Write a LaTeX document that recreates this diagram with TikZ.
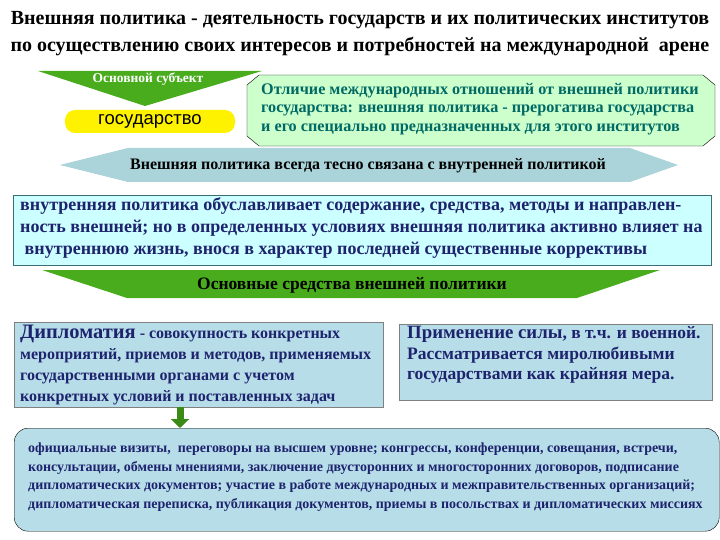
\documentclass[tikz,border=0pt]{standalone}
\usepackage{fontspec}
\setmainfont{Liberation Serif}
\setsansfont{Liberation Sans}
\usetikzlibrary{arrows.meta}
\definecolor{navytext}{RGB}{30,35,110}
\definecolor{tealtext}{RGB}{0,105,100}
\definecolor{bannergreen}{RGB}{72,172,28}
\definecolor{octfill}{RGB}{204,255,204}
\definecolor{cyanfill}{RGB}{204,255,255}
\definecolor{bluefill}{RGB}{183,221,232}
\definecolor{bannercyan}{RGB}{170,212,218}
\definecolor{boxline}{RGB}{60,110,120}
\newcommand\bigword[1]{\fontsize{#1}{21}\selectfont}

\begin{document}
\begin{tikzpicture}[x=1pt,y=-1pt,
    txt/.style={inner sep=0pt,font=\bfseries},
    para/.style={txt,align=left,anchor=north west}]
    \useasboundingbox (0,0) rectangle (720,540);

    \node[txt,align=center,font=\bfseries\fontsize{20}{27}\selectfont] (title) at (360,34)
        {Внешняя политика - деятельность государств и их политических институтов\\
         по осуществлению своих интересов и потребностей на международной\ \ арене};

    \fill[bannergreen] (38,71) -- (262,71) -- (145,106) -- cycle;
    \node[txt,text=white,font=\bfseries\fontsize{13.5}{14}\selectfont] (subject) at (148,79) {Основной субъект};

    \node[fill=yellow,rounded corners=10pt,minimum width=170pt,minimum height=23pt,inner sep=0pt,
        font=\sffamily\fontsize{18.5}{19}\selectfont] (state) at (150,121.5) {государство};

    \draw[black,fill=octfill] (247,85) -- (259,75) -- (703,75) -- (715,85) -- (715,136)
        -- (703,146) -- (259,146) -- (247,136) -- cycle;
    \node[para,text=tealtext,font=\bfseries\fontsize{16.2}{18.5}\selectfont] (diff) at (261,83)
        {Отличие международных отношений от внешней политики\\
         государства: внешняя политика - прерогатива государства\\
         и его специально предназначенных для этого институтов};

    \fill[bannercyan] (60,165) -- (128,148) -- (630,148) -- (678,165) -- (630,182) -- (128,182) -- cycle;
    \node[txt,font=\bfseries\fontsize{16}{16}\selectfont] (link) at (368,166)
        {Внешняя политика всегда тесно связана с внутренней политикой};

    \node[draw=boxline,fill=cyanfill,minimum width=698pt,minimum height=70pt,anchor=north west] (inner) at (13,195) {};
    \node[para,text=navytext,font=\bfseries\fontsize{18}{22}\selectfont] (innertext) at (20,197)
        {внутренняя политика обуславливает содержание, средства, методы и направлен-\\
         ность внешней; но в определенных условиях внешняя политика активно влияет на\\
         \ внутреннюю жизнь, внося в характер последней существенные коррективы};

    \fill[bannergreen] (42,270) -- (660,270) -- (577,298) -- (127,298) -- cycle;
    \node[txt,font=\bfseries\fontsize{17.5}{17}\selectfont] (means) at (352,285)
        {Основные средства внешней политики};

    \node[draw=gray,fill=bluefill,minimum width=369pt,minimum height=85pt,anchor=north west] (dipl) at (14,322) {};
    \node[para,text=navytext,font=\bfseries\fontsize{16}{21}\selectfont] (dipltext) at (20,325)
        {{\bigword{20.5}Дипломатия} - совокупность конкретных\\
         мероприятий, приемов и методов, применяемых\\
         государственными органами с учетом\\
         конкретных условий и поставленных задач};

    \node[draw=gray,fill=bluefill,minimum width=313pt,minimum height=76pt,anchor=north west] (force) at (399,324) {};
    \node[para,text=navytext,font=\bfseries\fontsize{17.5}{20.5}\selectfont] (forcetext) at (407,326)
        {{\bigword{18.8}Применение силы}, в т.ч. и военной.\\
         Рассматривается миролюбивыми\\
         государствами как крайняя мера.};

    \node[draw=black,fill=bluefill,rounded corners=14pt,minimum width=705pt,minimum height=103pt,anchor=north west] (events) at (14,428) {};
    \node[para,text=navytext,font=\bfseries\fontsize{14}{18.5}\selectfont] (eventstext) at (28,443)
        {официальные визиты,\ \ переговоры на высшем уровне; конгрессы, конференции, совещания, встречи,\\
         консультации, обмены мнениями, заключение двусторонних и многосторонних договоров, подписание\\
         дипломатических документов; участие в работе международных и межправительственных организаций;\\
         дипломатическая переписка, публикация документов, приемы в посольствах и дипломатических миссиях};

    \coordinate (a1) at (180,0);
    \draw[bannergreen!80!black,line width=7pt,-{Triangle[width=18pt,length=9pt]}] (dipl.south -| a1) -- (events.north -| a1);
\end{tikzpicture}
\end{document}
